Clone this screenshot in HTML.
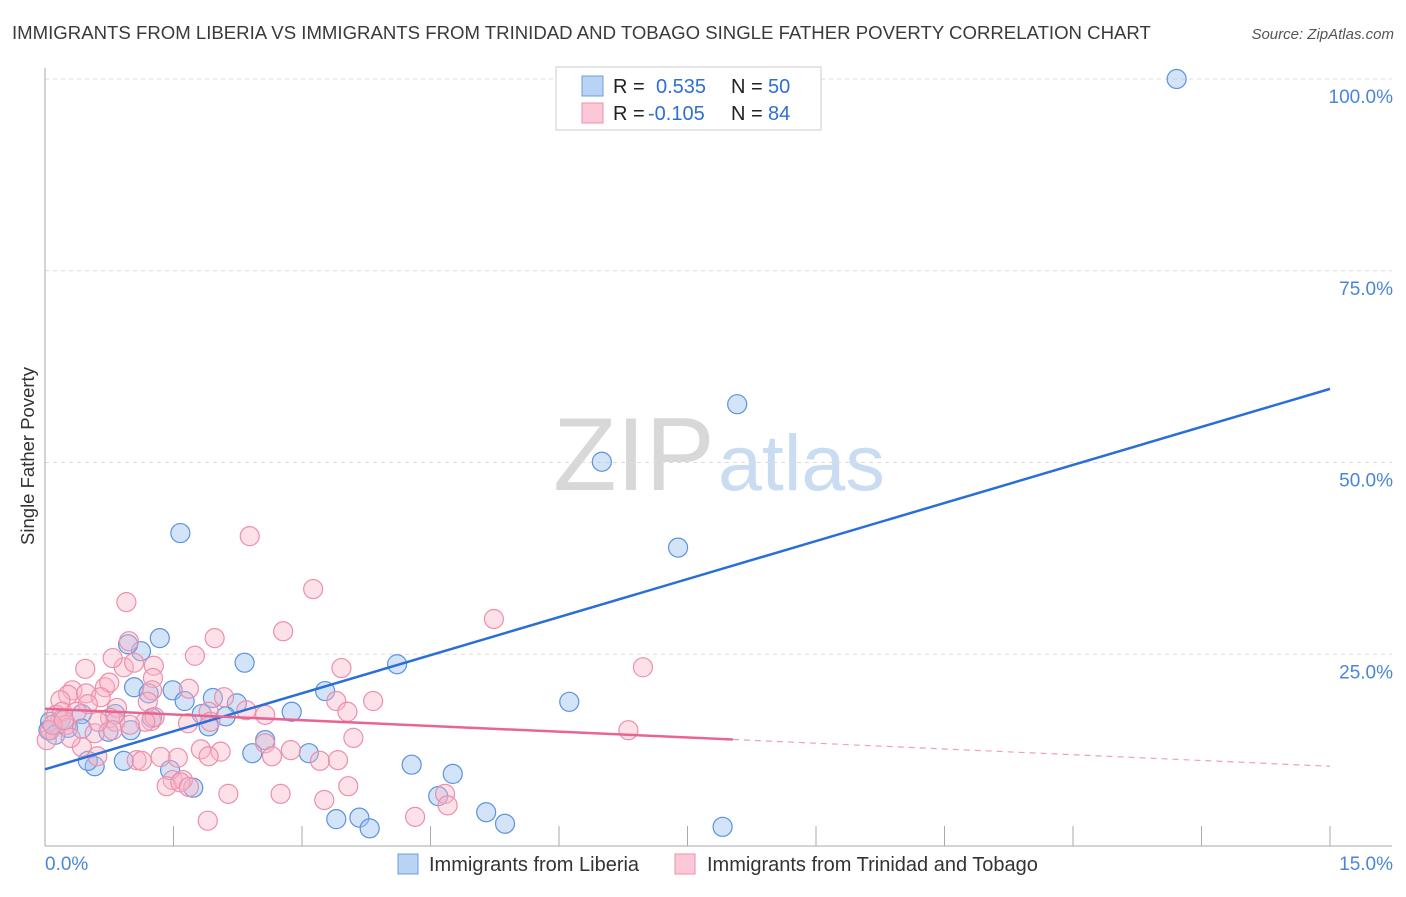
<!DOCTYPE html>
<html><head><meta charset="utf-8">
<style>
body{margin:0;background:#fff;font-family:"Liberation Sans",sans-serif;}
svg text{font-family:"Liberation Sans",sans-serif;}
</style></head>
<body>
<svg id="chart" width="1406" height="892" viewBox="0 0 1406 892" xmlns="http://www.w3.org/2000/svg">
<text x="12" y="39" font-size="18.6" fill="#3a3a3a">IMMIGRANTS FROM LIBERIA VS IMMIGRANTS FROM TRINIDAD AND TOBAGO SINGLE FATHER POVERTY CORRELATION CHART</text>
<text x="1394" y="39" font-size="15" fill="#555" font-style="italic" text-anchor="end">Source: ZipAtlas.com</text>
<g>
<text x="553" y="490" font-size="104" font-family="Liberation Serif, serif" fill="#d8d8d8">ZIP</text>
<text x="718" y="490" font-size="79" fill="#c9dcf2">atlas</text>
</g>
<g id="grid"></g>
<g id="axes"></g>
<g id="pts"></g>
<g id="lines"></g>
<text transform="translate(34,456) rotate(-90)" font-size="18.5" fill="#333" text-anchor="middle">Single Father Poverty</text>
<g>
<rect x="556" y="67" width="265" height="63" fill="#fff" stroke="#ccc"/>
<rect x="582" y="76" width="21" height="20" fill="#b9d3f5" stroke="#6d9be0"/>
<rect x="582" y="103" width="21" height="20" fill="#fcc8d8" stroke="#ec90ad"/>
<text x="613" y="93" font-size="20" fill="#222">R = </text><text x="656" y="93" font-size="20" fill="#2f6fd1">0.535</text>
<text x="731" y="93" font-size="20" fill="#222">N = </text><text x="768" y="93" font-size="20" fill="#2f6fd1">50</text>
<text x="613" y="120" font-size="20" fill="#222">R = </text><text x="648" y="120" font-size="20" fill="#2f6fd1">-0.105</text>
<text x="731" y="120" font-size="20" fill="#222">N = </text><text x="768" y="120" font-size="20" fill="#2f6fd1">84</text>
</g>
<g>
<rect x="398" y="854" width="20" height="20" fill="#b9d3f5" stroke="#6d9be0"/>
<text x="429" y="871" font-size="20" fill="#333">Immigrants from Liberia</text>
<rect x="675" y="854" width="20" height="20" fill="#fcc8d8" stroke="#ec90ad"/>
<text x="707" y="871" font-size="20" fill="#333">Immigrants from Trinidad and Tobago</text>
</g>
</svg>
<script>
const yTicks=[25,50,75,100];
const yTickLabels=["25.0%","50.0%","75.0%","100.0%"];
const xTicks=[1.5,3,4.5,6,7.5,9,10.5,12,13.5,15];
const blueX=[13.21,8.08,6.50,7.39,1.58,1.34,1.12,0.97,2.33,4.11,1.04,1.49,1.21,1.63,1.96,2.24,3.27,6.12,2.88,1.83,2.11,1.25,0.82,0.43,0.18,0.06,0.27,0.43,0.74,1.00,1.91,2.57,2.42,3.08,0.92,0.58,0.50,1.46,1.73,4.28,4.76,4.59,5.15,5.37,3.40,3.67,3.79,7.91,0.04,0.12];
const blueY=[100.0,57.6,50.1,38.9,40.8,27.1,25.4,26.3,23.9,23.7,20.7,20.3,19.9,18.9,19.3,18.6,20.2,18.8,17.5,17.2,16.9,16.7,17.2,17.2,16.4,16.2,15.4,15.3,14.9,15.1,15.6,13.8,12.1,12.1,11.1,10.4,11.1,9.9,7.6,10.6,9.4,6.5,4.4,2.9,3.5,3.7,2.3,2.5,15.1,14.5];
const pinkX=[2.39,3.13,0.95,5.24,2.78,0.98,1.98,1.75,1.27,6.98,3.46,0.47,0.92,0.79,1.04,1.26,0.32,0.27,0.48,0.70,0.75,0.65,1.25,1.68,2.09,3.40,3.83,3.53,0.50,0.18,0.84,1.20,0.76,0.82,0.13,0.20,0.37,0.25,0.58,1.24,1.28,1.91,1.93,2.57,2.35,1.17,0.79,6.81,3.60,2.57,1.82,2.05,2.65,1.55,1.07,1.13,1.35,1.91,2.87,3.21,3.42,0.43,0.61,1.49,1.61,1.42,1.58,1.68,3.54,2.14,2.75,3.26,4.67,4.70,4.32,1.90,0.30,0.02,0.06,0.09,0.22,0.62,0.99,1.67];
const pinkY=[40.4,33.5,31.8,29.6,28.0,26.7,27.1,24.8,23.5,23.3,23.2,23.1,23.3,24.5,23.9,21.9,20.3,19.7,19.9,20.7,21.3,19.4,20.3,20.5,19.4,18.9,18.9,17.5,18.5,19.0,18.0,18.8,16.7,16.2,17.1,17.5,17.5,15.8,14.7,16.3,16.8,17.5,16.2,17.1,17.7,16.2,15.1,15.1,14.1,13.4,12.6,12.3,11.7,11.5,11.2,11.1,11.6,11.7,12.5,11.1,11.2,12.9,11.7,8.6,8.6,7.8,8.3,7.7,7.8,6.8,6.8,6.0,6.8,5.3,3.8,3.3,14.1,13.8,15.1,15.8,16.4,16.2,15.8,16.0];
const blueTrend=[10.0,59.6];
const pinkTrend=[17.9,10.4];
const pinkSolidEnd=8.03;

const NS="http://www.w3.org/2000/svg";
const X0=45,X1=1330,Y0=846,Y100=79;
const sx=v=>X0+(v/15)*(X1-X0);
const sy=v=>Y0-(v/100)*(Y0-Y100);
function mk(tag,attrs,parent){const e=document.createElementNS(NS,tag);for(const k in attrs)e.setAttribute(k,attrs[k]);parent.appendChild(e);return e;}
const grid=document.getElementById('grid'),axes=document.getElementById('axes'),pts=document.getElementById('pts'),lines=document.getElementById('lines');
yTicks.forEach((t,i)=>{
 const l=mk('line',{x1:X0,x2:1392,y1:sy(t),y2:sy(t),stroke:'#dcdcdc','stroke-dasharray':'4,4'},grid);
 
 
 const tx=mk('text',{x:1393,y:sy(t)+24,'font-size':19,fill:'#4a86d8','text-anchor':'end'},axes);
 tx.textContent=yTickLabels[i];
 
 
});
const ya=mk('line',{x1:X0,x2:X0,y1:68,y2:Y0,stroke:'#aaa'},axes);


const xa=mk('line',{x1:X0,x2:1392,y1:Y0,y2:Y0,stroke:'#aaa'},axes);


xTicks.forEach(t=>{
 const l=mk('line',{x1:sx(t),x2:sx(t),y1:826,y2:Y0,stroke:'#aaa'},axes);
 
 
});
const xl0=mk('text',{x:45,y:870,'font-size':19,fill:'#4a86d8'},axes);xl0.textContent='0.0%';


const xl1=mk('text',{x:1393,y:870,'font-size':19,fill:'#4a86d8','text-anchor':'end'},axes);xl1.textContent='15.0%';


blueX.forEach((v,i)=>{
 const c=mk('circle',{cx:sx(v),cy:sy(blueY[i]),r:9.5,fill:'rgba(160,196,240,0.45)',stroke:'#5b93dd','stroke-width':1.2},pts);
 
 
});
pinkX.forEach((v,i)=>{
 const c=mk('circle',{cx:sx(v),cy:sy(pinkY[i]),r:9.5,fill:'rgba(250,180,200,0.4)',stroke:'#ec8fab','stroke-width':1.2},pts);
 
 
});
const bl=mk('line',{x1:sx(0),y1:sy(blueTrend[0]),x2:sx(15),y2:sy(blueTrend[1]),stroke:'#2a6fd6','stroke-width':2.5},lines);


const pAt=x=>pinkTrend[0]+(pinkTrend[1]-pinkTrend[0])*x/15;
const pl=mk('line',{x1:sx(0),y1:sy(pinkTrend[0]),x2:sx(pinkSolidEnd),y2:sy(pAt(pinkSolidEnd)),stroke:'#e8658f','stroke-width':2.5},lines);


const pd=mk('line',{x1:sx(pinkSolidEnd),y1:sy(pAt(pinkSolidEnd)),x2:sx(15),y2:sy(pinkTrend[1]),stroke:'#eea0b8','stroke-width':1.2,'stroke-dasharray':'6,5'},lines);


</script>
</body></html>
